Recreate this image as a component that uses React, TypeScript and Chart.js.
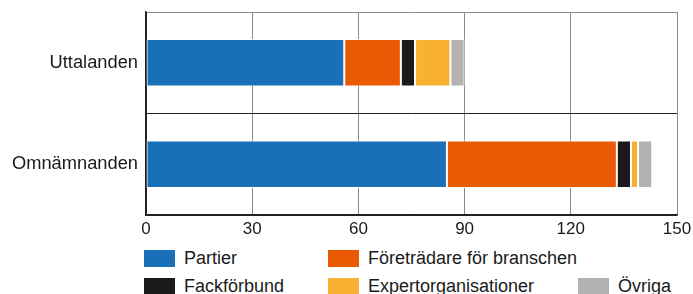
import React, { useEffect, useRef } from "react";
import { Chart, registerables } from "chart.js";

Chart.register(...registerables);

const categories = ["Uttalanden", "Omnämnanden"];
const seriesNames = ["Partier", "Företrädare för branschen", "Fackförbund", "Expertorganisationer", "Övriga"];
const partier = [56, 85];
const foretradare = [16, 48];
const fackforbund = [4, 4];
const expertorganisationer = [10, 2];
const ovriga = [4, 4];
const xMin = 0;
const xMax = 150;
const xStep = 30;
const seriesColors = ["#1a70b8", "#ea5a04", "#1a1a1a", "#f8b133", "#b2b2b2"];

const seriesValues = [partier, foretradare, fackforbund, expertorganisationer, ovriga];

// legend layout: [left, top] per item
const legendPos: [number, number][] = [
  [144, 249],
  [328, 249],
  [144, 277],
  [328, 277],
  [578, 277],
];

const FONT = "'Liberation Sans', Arial, sans-serif";

export default function App() {
  const ref = useRef<HTMLCanvasElement | null>(null);

  useEffect(() => {
    document.body.style.margin = "0";
    const canvas = ref.current;
    if (!canvas) return;
    const chart = new Chart(canvas, {
      type: "bar",
      data: {
        labels: categories,
        datasets: seriesNames.map((name, i) => ({
          label: name,
          data: seriesValues[i],
          backgroundColor: seriesColors[i],
          borderColor: "rgba(255,255,255,0.85)",
          borderWidth: 1,
          borderSkipped: false,
          barPercentage: 0.47,
          categoryPercentage: 1,
        })),
      },
      options: {
        indexAxis: "y",
        animation: false,
        responsive: false,
        maintainAspectRatio: false,
        layout: { padding: { top: 12, right: 16, left: 0, bottom: 0 } },
        plugins: {
          legend: { display: false },
          tooltip: { enabled: false },
        },
        scales: {
          x: {
            stacked: true,
            min: xMin,
            max: xMax,
            ticks: {
              stepSize: xStep,
              color: "#1a1a1a",
              font: { family: FONT, size: 17 },
              padding: 4,
            },
            grid: {
              drawTicks: false,
              color: (ctx: any) => (ctx.index === 0 ? "#222" : "#8a8a8a"),
              lineWidth: 1,
            },
            border: { color: "#222", width: 1.5 },
            afterFit: (scale: any) => {
              scale.height = 25;
              scale.paddingLeft = 0;
              scale.paddingRight = 0;
            },
          },
          y: {
            stacked: true,
            ticks: {
              color: "#1a1a1a",
              font: { family: FONT, size: 18.3 },
              padding: 8,
            },
            grid: {
              offset: true,
              drawTicks: false,
              color: (ctx: any) => (ctx.index === 0 ? "#8a8a8a" : "#222"),
              lineWidth: 1,
            },
            border: { color: "#222", width: 1.5 },
            afterFit: (scale: any) => {
              scale.width = 146;
              scale.paddingTop = 0;
              scale.paddingBottom = 0;
            },
          },
        },
      },
    });
    return () => chart.destroy();
  }, []);

  return (
    <div style={{ position: "absolute", left: 0, top: 0, width: 693, height: 294, overflow: "hidden", background: "#fff" }}>
      <canvas ref={ref} width={693} height={240} style={{ display: "block", width: 693, height: 240 }} />
      {seriesNames.map((name, i) => (
        <div
          key={name}
          style={{
            position: "absolute",
            left: legendPos[i][0],
            top: legendPos[i][1],
            display: "flex",
            alignItems: "center",
            height: 18,
            whiteSpace: "nowrap",
          }}
        >
          <span style={{ display: "inline-block", width: 31, height: 17, background: seriesColors[i], marginRight: 9 }} />
          <span style={{ fontFamily: FONT, fontSize: 18, color: "#1a1a1a", lineHeight: "18px" }}>{name}</span>
        </div>
      ))}
    </div>
  );
}
